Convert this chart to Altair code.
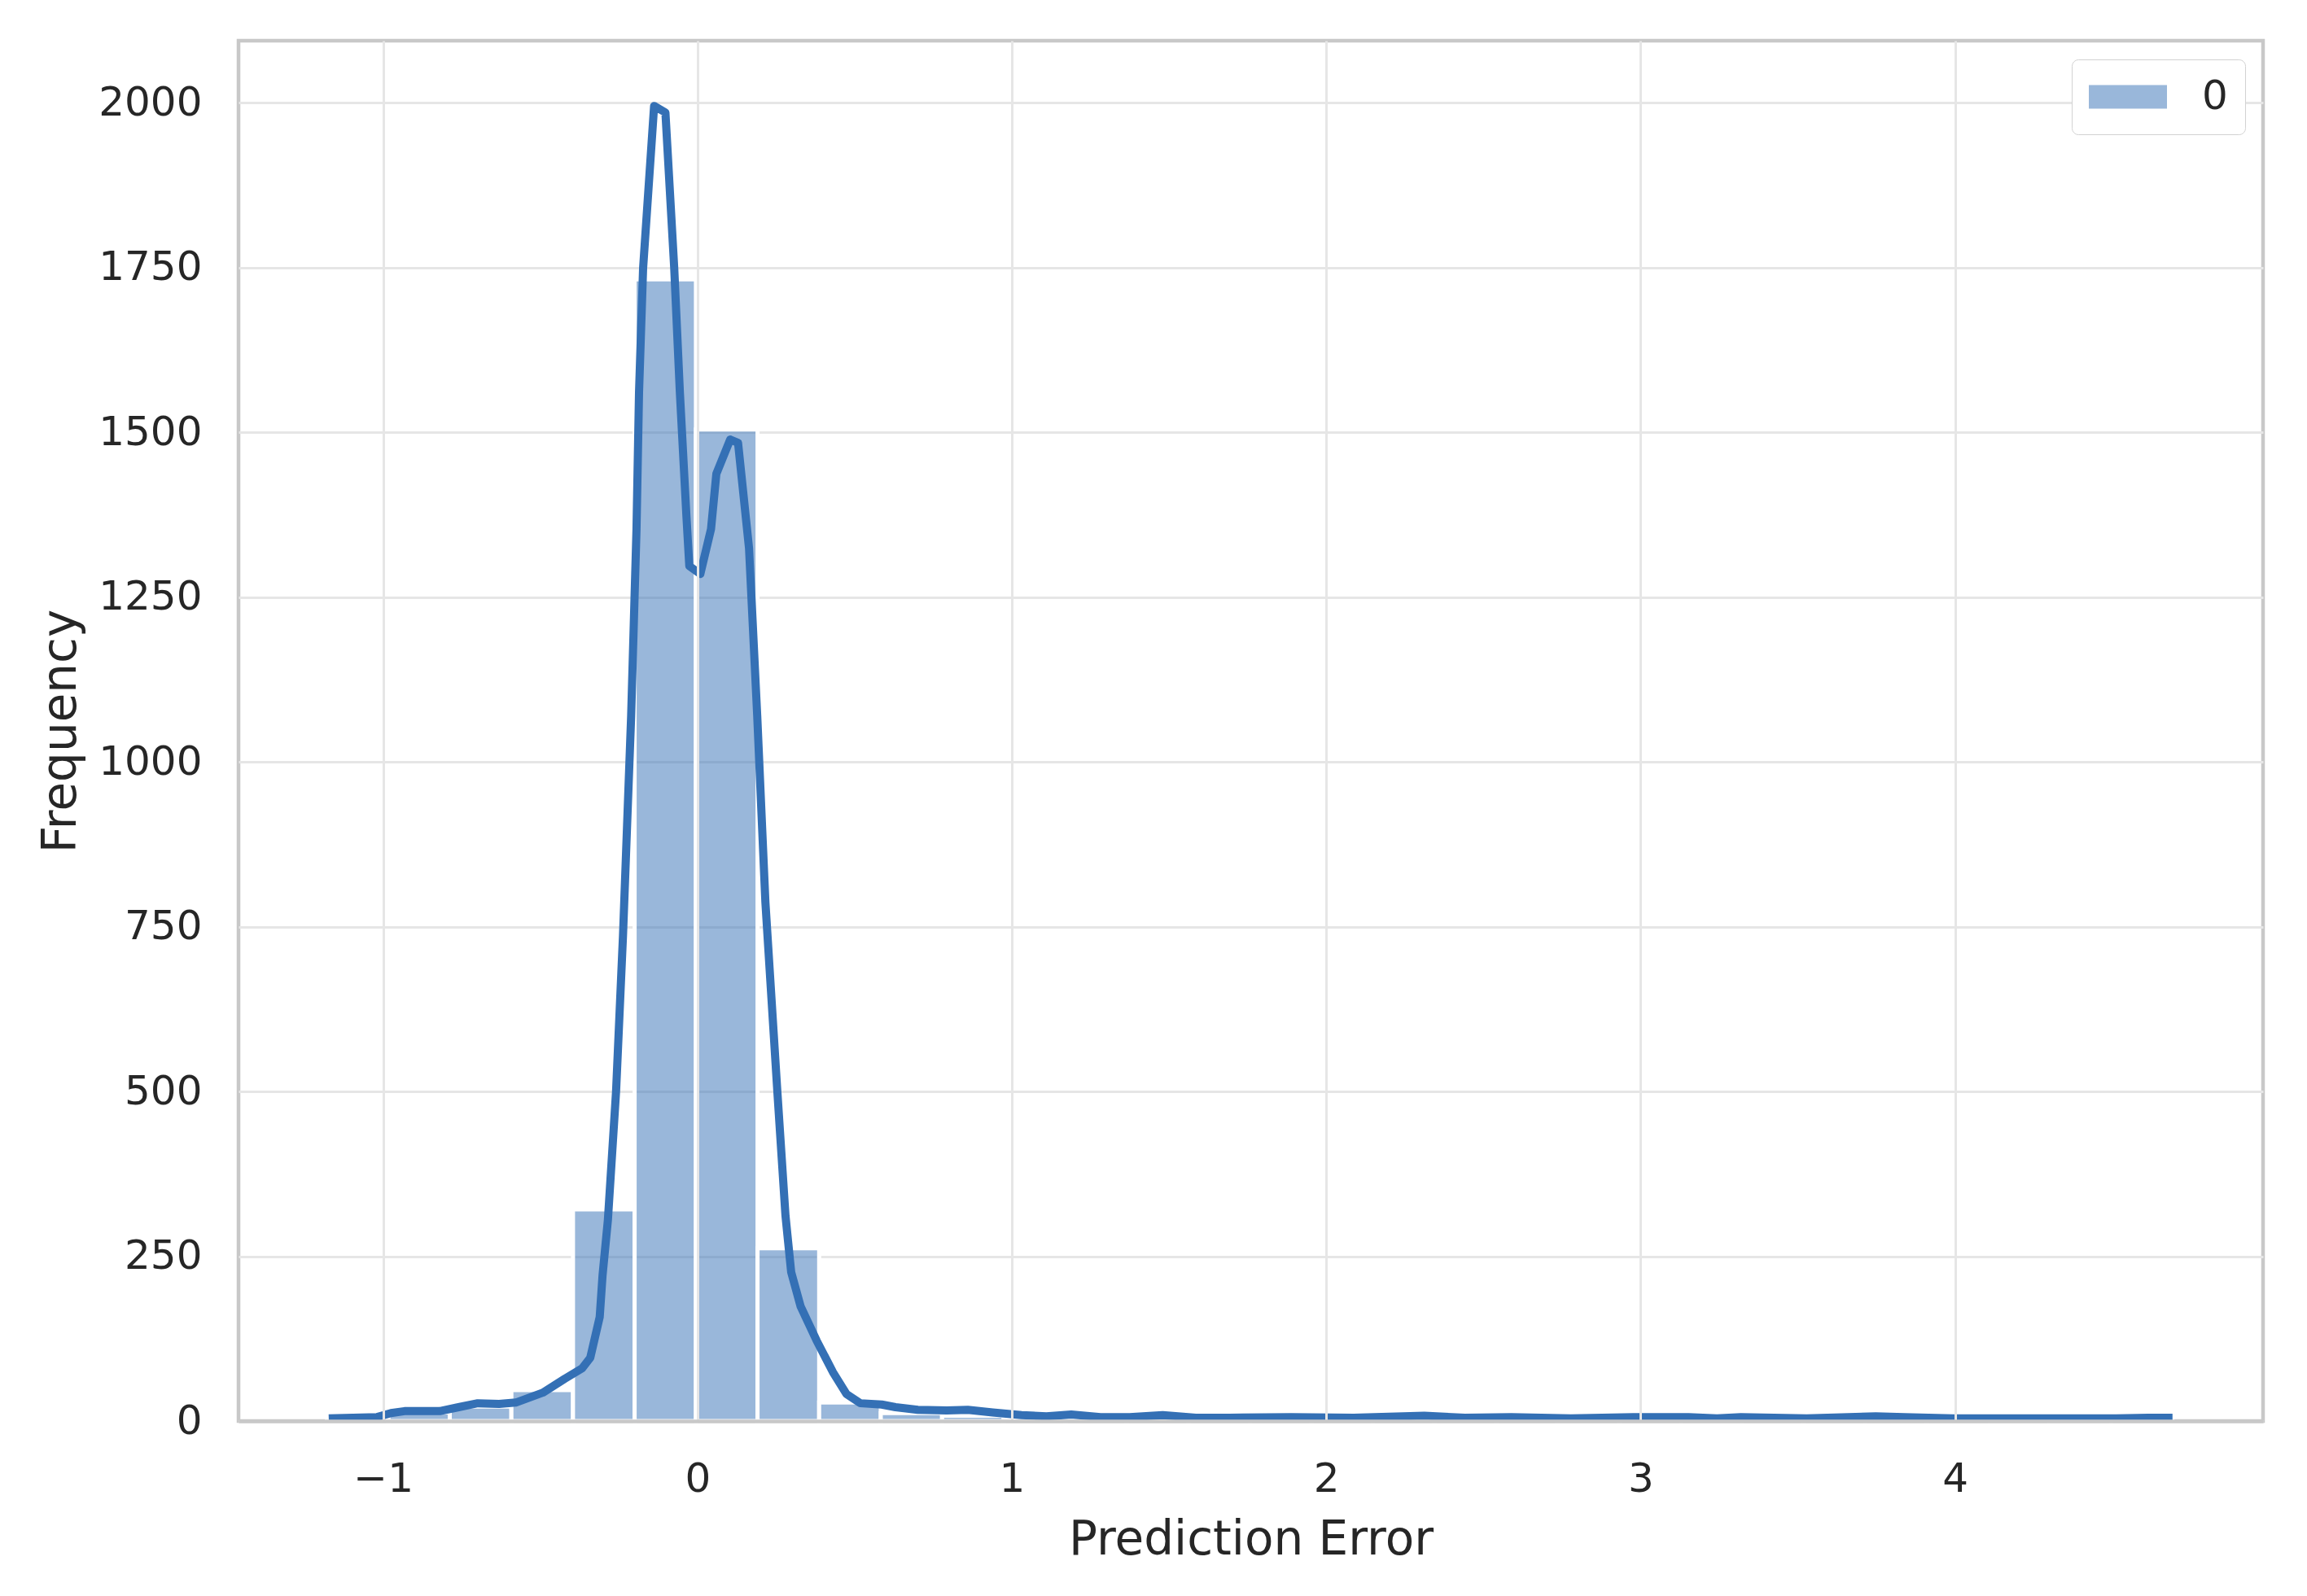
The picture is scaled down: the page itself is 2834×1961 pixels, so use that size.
import altair as alt
import pandas as pd

# ---- data ----
bin_edges = [-1.179, -0.983, -0.788, -0.592, -0.396, -0.200, -0.005, 0.191, 0.387, 0.583,
             0.778, 0.974, 1.170, 1.365, 1.561, 1.757, 1.953, 2.148, 2.344, 2.540,
             2.735, 2.931, 3.127, 3.322, 3.518, 3.714, 3.910, 4.105, 4.301, 4.497, 4.692]
counts = [4, 13, 22, 47, 321, 1732, 1504, 262, 28, 12,
          8, 4, 4, 3, 2, 1, 1, 2, 1, 1,
          1, 1, 2, 1, 1, 2, 1, 0, 1, 1]

kde_x = [-1.173, -1.019, -0.975, -0.932, -0.820, -0.760, -0.699, -0.631, -0.578, -0.492,
         -0.423, -0.367, -0.341, -0.311, -0.302, -0.285, -0.259, -0.237, -0.211, -0.194,
         -0.186, -0.173, -0.138, -0.102, -0.074, -0.056, -0.035, -0.026, 0.009, 0.043,
         0.060, 0.104, 0.129, 0.164, 0.190, 0.216, 0.254, 0.280, 0.298, 0.328,
         0.379, 0.431, 0.474, 0.518, 0.586, 0.630, 0.701, 0.793, 0.860, 0.939,
         1.031, 1.110, 1.189, 1.282, 1.375, 1.480, 1.585, 1.691, 1.889, 2.087,
         2.312, 2.441, 2.589, 2.778, 2.977, 3.153, 3.243, 3.319, 3.528, 3.748,
         3.838, 3.994, 4.253, 4.512, 4.615, 4.692]
kde_y = [4, 6, 12, 15, 15, 21, 27, 26, 28, 43,
         64, 80, 96, 158, 221, 305, 500, 736, 1070, 1353,
         1560, 1749, 1995, 1985, 1749, 1560, 1371, 1297, 1285, 1353,
         1437, 1489, 1484, 1324, 1070, 787, 500, 311, 226, 174,
         122, 74, 41, 27, 25, 21, 17, 16, 17, 13,
         9, 7, 10, 6, 6, 9, 5, 5, 6, 5,
         8, 5, 6, 4, 6, 6, 4, 6, 4, 7,
         6, 4, 4, 4, 5, 5]

x_ticks = [-1, 0, 1, 2, 3, 4]
y_ticks = [0, 250, 500, 750, 1000, 1250, 1500, 1750, 2000]
series_name = "0"

COLOR = "#3470B5"
TEXT = "#262626"
FONT = "DejaVu Sans"
FRAME = "#c8c8c8"
GRID = "#e6e6e6"

hist_df = pd.DataFrame({
    "bin_lo": bin_edges[:-1],
    "bin_hi": bin_edges[1:],
    "freq": counts,
    "series": [series_name] * len(counts),
})
kde_df = pd.DataFrame({"bin_lo": kde_x, "freq": kde_y})

x_scale = alt.Scale(domain=[-1.46, 4.98], nice=False, zero=False)
y_scale = alt.Scale(domain=[0, 2094], nice=False, zero=True)

x_axis = alt.Axis(
    values=x_ticks, title="Prediction Error",
    labelExpr="replace(datum.label, '-', '\u2212')",
    labelFontSize=50, labelFont=FONT, labelColor=TEXT, labelPadding=46,
    ticks=False, domain=True, domainColor=FRAME, domainWidth=4.5,
    grid=True, gridColor=GRID, gridWidth=3,
    titleFontSize=58, titleFont=FONT, titleFontWeight="normal", titleColor=TEXT,
    titleBaseline="alphabetic", titleY=163, zindex=1,
)
y_axis = alt.Axis(
    values=y_ticks, format="d", title="Frequency",
    labelFontSize=50, labelFont=FONT, labelColor=TEXT, labelPadding=45,
    ticks=False, domain=False,
    grid=True, gridColor=GRID, gridWidth=3,
    titleFontSize=58, titleFont=FONT, titleFontWeight="normal", titleColor=TEXT,
    titleAngle=270, titleBaseline="alphabetic", titleAlign="center",
    titleX=-201, titleY=848,
)

bars = alt.Chart(hist_df).mark_rect(
    fillOpacity=0.5, stroke="white", strokeWidth=5
).encode(
    x=alt.X("bin_lo:Q", scale=x_scale, axis=x_axis),
    x2="bin_hi:Q",
    y=alt.Y("freq:Q", scale=y_scale, axis=y_axis),
    y2=alt.datum(0),
    fill=alt.Fill("series:N", scale=alt.Scale(range=[COLOR]), legend=alt.Legend(
        title=None, orient="none", legendX=2252, legendY=23,
        symbolType="M-3.31,-1H3.31V1H-3.31Z", symbolSize=841,
        symbolOpacity=0.5, symbolStrokeWidth=0, symbolOffset=23,
        labelFontSize=50, labelFont=FONT, labelColor=TEXT, labelOffset=66,
        padding=21, strokeColor="#d2d2d2", fillColor="white", cornerRadius=8,
    )),
)

line = alt.Chart(kde_df).mark_line(
    color=COLOR, strokeWidth=10, strokeJoin="round", strokeCap="butt"
).encode(
    x=alt.X("bin_lo:Q", scale=x_scale, axis=x_axis),
    y=alt.Y("freq:Q", scale=y_scale, axis=y_axis),
)

chart = alt.layer(bars, line).properties(
    width=2487, height=1696,
    autosize=alt.AutoSizeParams(type="none"),
    padding={"left": 285, "top": 42, "right": 40, "bottom": 200},
).configure(
    font=FONT, background="white"
).configure_view(
    stroke=FRAME, strokeWidth=4.5
)

chart.save("out.html", embed_options={"renderer": "svg", "actions": False})
